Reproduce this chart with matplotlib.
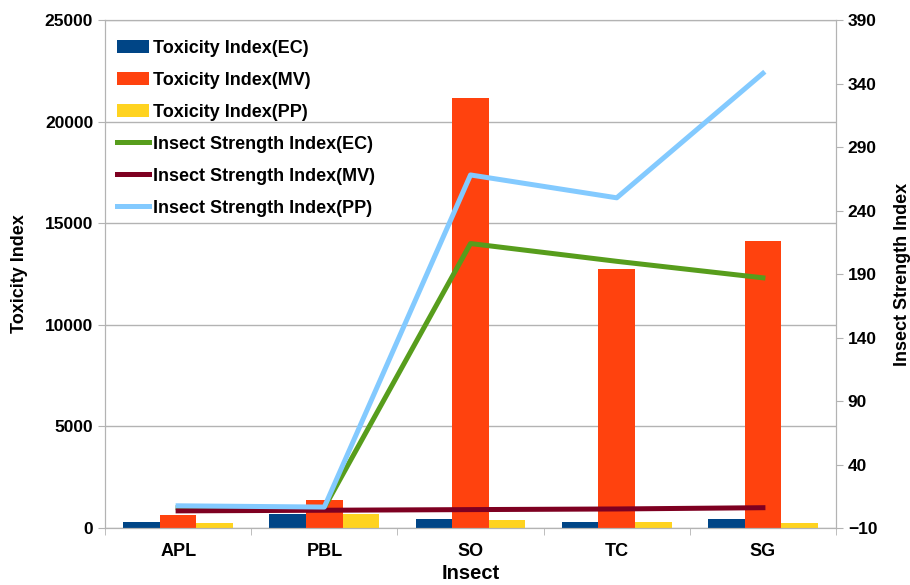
"""
Toxicity index and insect strength index by insect
"""

import matplotlib.pyplot as plt
import numpy as np

plt.rcParams['font.family'] = ['Liberation Sans', 'DejaVu Sans']
plt.rcParams['font.weight'] = 'bold'

# Insects on the x axis
insects = ['APL', 'PBL', 'SO', 'TC', 'SG']

# Toxicity index (left axis, bars)
tox_ec = [300, 700, 440, 300, 440]
tox_mv = [640, 1370, 21180, 12740, 14120]
tox_pp = [250, 700, 390, 280, 260]

# Insect strength index (right axis, lines)
isi_ec = [6, 6, 214, 200, 187]
isi_mv = [3.5, 4, 4.5, 5, 6]
isi_pp = [7.5, 6.5, 268, 250, 348]

gray = '#b3b3b3'
x = np.arange(len(insects))
w = 0.25

fig = plt.figure(figsize=(9.1, 5.85), dpi=100)
ax = fig.add_axes([0.1154, 0.0974, 0.8033, 0.8684])
ax2 = ax.twinx()

b1 = ax.bar(x - w, tox_ec, w, color='#004586', label='Toxicity Index(EC)')
b2 = ax.bar(x, tox_mv, w, color='#ff420e', label='Toxicity Index(MV)')
b3 = ax.bar(x + w, tox_pp, w, color='#ffd320', label='Toxicity Index(PP)')

l1, = ax2.plot(x, isi_ec, color='#579d1c', lw=3.6, label='Insect Strength Index(EC)')
l2, = ax2.plot(x, isi_mv, color='#7e0021', lw=3.6, label='Insect Strength Index(MV)')
l3, = ax2.plot(x, isi_pp, color='#83caff', lw=3.6, label='Insect Strength Index(PP)')

ax.set_xlim(-0.5, 4.5)
ax.set_ylim(0, 25000)
ax.set_yticks(np.arange(0, 25001, 5000))
ax2.set_ylim(-10, 390)
ax2.set_yticks(np.arange(-10, 391, 50))

ax.set_xticks(x)
ax.set_xticklabels(insects)
ax.set_xticks(np.arange(-0.5, 4.6, 1), minor=True)
ax.tick_params(axis='x', which='major', length=0, pad=11, labelsize=13)
ax.tick_params(axis='x', which='minor', length=5, color=gray)
ax.tick_params(axis='y', length=5, color=gray, labelsize=12.5)
ax2.tick_params(axis='y', length=5, color=gray, labelsize=12.5)

ax.yaxis.grid(True, color=gray, lw=1)
ax.set_axisbelow(True)
for a in (ax, ax2):
    for sp in a.spines.values():
        sp.set_color(gray)

ax.set_xlabel('Insect', fontsize=14.5, fontweight='bold', labelpad=3)
ax.set_ylabel('Toxicity Index', fontsize=13, fontweight='bold', labelpad=12)
ax2.set_ylabel('Insect Strength Index', fontsize=13, fontweight='bold', labelpad=12)

handles = [b1, b2, b3, l1, l2, l3]
ax2.legend(handles, [h.get_label() for h in handles], loc='upper left',
           bbox_to_anchor=(-0.006, 0.993), frameon=False,
           handlelength=1.8, handletextpad=0.2, labelspacing=0.83,
           prop={'weight': 'bold', 'size': 13})

fig.savefig('out.png', dpi=100)
